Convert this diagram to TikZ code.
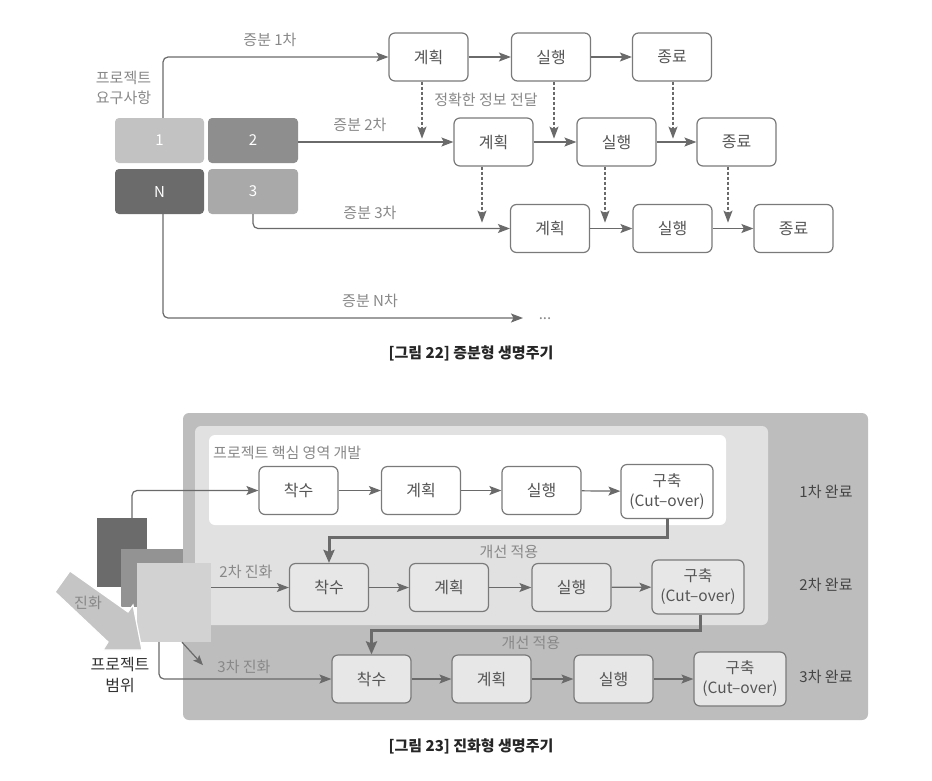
\documentclass[tikz,border=0pt]{standalone}
\usepackage{fontspec}
\setmainfont{Noto Sans CJK KR}
\usetikzlibrary{arrows.meta}

\definecolor{linegray}{HTML}{6A6A6A}
\definecolor{boxline}{HTML}{7A7A7A}
\definecolor{txtgray}{HTML}{888888}
\definecolor{txtdark}{HTML}{555555}
\definecolor{txtside}{HTML}{444444}
\definecolor{gone}{HTML}{C2C2C3}
\definecolor{gtwo}{HTML}{8E8E8F}
\definecolor{gnn}{HTML}{6B6B6C}
\definecolor{gthree}{HTML}{A9A9AA}
\definecolor{outerbg}{HTML}{BDBDBE}
\definecolor{midbg}{HTML}{E1E1E2}
\definecolor{rowfill}{HTML}{E7E7E7}
\definecolor{thickgray}{HTML}{6A6A6A}
\definecolor{sqdark}{HTML}{6B6B6B}
\definecolor{sqmid}{HTML}{939393}
\definecolor{sqlight}{HTML}{D2D2D2}
\definecolor{bigarrow}{HTML}{C5C5C5}

\tikzset{
  box/.style={draw=boxline, line width=1.2pt, rounded corners=6pt,
    minimum width=79pt, minimum height=48pt, inner sep=0pt,
    font=\fontsize{16}{18}\selectfont, text=txtdark},
  cbox/.style={box, minimum width=92pt, minimum height=54pt, align=center,
    font=\fontsize{15.5}{20}\selectfont},
  arr/.style={draw=linegray, line width=1.2pt, rounded corners=5pt,
    -{Stealth[length=12pt,width=9pt,inset=2.5pt]}},
  darr/.style={arr, dash pattern=on 3pt off 2pt},
  tarr/.style={draw=thickgray, line width=3pt,
    -{Stealth[length=13pt,width=11pt,inset=2pt]}},
  lbl/.style={text=txtgray, font=\fontsize{15}{20}\selectfont, inner sep=0pt, align=center},
  side/.style={lbl, text=txtside},
  blk/.style={rounded corners=4pt, minimum width=89pt, minimum height=45pt,
    inner sep=0pt, text=white, font=\fontsize{15}{16}\selectfont},
  sq/.style={inner sep=0pt},
  figcaption/.style={font=\fontsize{15}{16}\selectfont\bfseries, text=black!85, inner sep=0pt},
}

\begin{document}
\begin{tikzpicture}[x=1pt,y=-1pt]
\useasboundingbox (0,0) rectangle (932,780);
\fill[white] (0,0) rectangle (932,780);

% ---------- incremental life cycle ----------
\node[box] (p1) at (428.5,57) {계획};
\node[box] (s1) at (551,57) {실행};
\node[box] (e1) at (672,57) {종료};
\node[box] (p2) at (493.5,142) {계획};
\node[box] (s2) at (616.5,142) {실행};
\node[box] (e2) at (736.5,142) {종료};
\node[box] (p3) at (550,228.5) {계획};
\node[box] (s3) at (672.5,228.5) {실행};
\node[box] (e3) at (793.5,228.5) {종료};

\draw[arr] (p1) -- (s1);
\draw[arr] (s1) -- (e1);
\draw[arr] (p2) -- (s2);
\draw[arr] (s2) -- (e2);
\draw[arr] (p3) -- (s3);
\draw[arr] (s3) -- (e3);

% information handed down between increments
\draw[darr] ([xshift=-6.5pt]p1.south) -- ++(0,57);
\draw[darr] ([xshift=3pt]s1.south) -- ++(0,57);
\draw[darr] ([xshift=1pt]e1.south) -- ++(0,57);
\draw[darr] ([xshift=-11.5pt]p2.south) -- ++(0,56);
\draw[darr] ([xshift=-11.5pt]s2.south) -- ++(0,56);
\draw[darr] ([xshift=-8.5pt]e2.south) -- ++(0,56);
\node[lbl] (info) at (486,100) {정확한 정보 전달};

% requirement blocks
\node[blk, fill=gone] (b1) at (159.5,140.5) {1};
\node[blk, fill=gtwo, minimum width=90pt] (b2) at (253,140.5) {2};
\node[blk, fill=gnn] (bN) at (159.5,191.5) {N};
\node[blk, fill=gthree, minimum width=90pt] (b3) at (253,191.5) {3};
\node[lbl] (req) at (123.5,88) {프로젝트\\요구사항};

\draw[arr] ([xshift=3.5pt]b1.north) |- (p1.west);
\draw[arr] (b2.east |- p2.west) -- (p2.west);
\draw[arr] (b3.south) |- (p3.west);
\coordinate (nend) at (523,318);
\draw[arr] ([xshift=3.5pt]bN.south) |- (nend);
\node[lbl] (dots) at (545,319) {...};

\node[lbl] (i1) at (270,40) {증분 1차};
\node[lbl] (i2) at (360,125) {증분 2차};
\node[lbl] (i3) at (370,213) {증분 3차};
\node[lbl] (iN) at (370,301) {증분 N차};

\node[figcaption] (cap22) at (471,353) {[그림 22] 증분형 생명주기};

% ---------- evolutionary life cycle ----------
\fill[outerbg, rounded corners=6pt] (183,413) rectangle (868,720);
\fill[midbg, rounded corners=6pt] (195,426) rectangle (768,625);
\fill[white, rounded corners=6pt] (209,435) rectangle (726,525);
\node[lbl, anchor=west] (core) at (213,453) {프로젝트 핵심 영역 개발};

\node[box, fill=white] (a1) at (298.5,490.5) {착수};
\node[box, fill=white] (k1) at (421,490.5) {계획};
\node[box, fill=white] (x1) at (541.5,490.5) {실행};
\node[cbox, fill=white] (c1) at (667,491.5) {구축\\(Cut–over)};

\node[box, fill=rowfill] (a2) at (329,587.5) {착수};
\node[box, fill=rowfill] (k2) at (449,587.5) {계획};
\node[box, fill=rowfill] (x2) at (571.5,587.5) {실행};
\node[cbox, fill=rowfill] (c2) at (698,587) {구축\\(Cut–over)};

\node[box, fill=rowfill] (a3) at (371.5,679) {착수};
\node[box, fill=rowfill] (k3) at (491.5,679) {계획};
\node[box, fill=rowfill] (x3) at (613.5,679) {실행};
\node[cbox, fill=rowfill] (c3) at (740,679) {구축\\(Cut–over)};

\draw[arr] (a1) -- (k1);
\draw[arr] (k1) -- (x1);
\draw[arr] (x1) -- (c1);
\draw[arr] (a2) -- (k2);
\draw[arr] (k2) -- (x2);
\draw[arr] (x2) -- (c2);
\draw[arr] (a3) -- (k3);
\draw[arr] (k3) -- (x3);
\draw[arr] (x3) -- (c3);

% improvements carried into the next cycle
\draw[tarr] (c1.south) -- ++(0,18) -| (a2.north);
\draw[tarr] ([xshift=2pt]c2.south) -- ++(0,16) -| (a3.north);
\node[lbl] (imp1) at (509,552) {개선 적용};
\node[lbl] (imp2) at (531,643) {개선 적용};

\node[side] (done1) at (826,492) {1차 완료};
\node[side] (done2) at (826,585) {2차 완료};
\node[side] (done3) at (826,677) {3차 완료};

% scope squares
\node[sq, fill=sqdark, minimum width=50pt, minimum height=69pt] (sqd) at (122,552.5) {};
\node[sq, fill=sqmid, minimum width=62pt, minimum height=58pt] (sqm) at (152,578) {};
\node[sq, fill=sqlight, minimum width=74pt, minimum height=79pt] (sql) at (174,602.5) {};

% evolution block arrow
\filldraw[fill=bigarrow, draw=white, line width=1.2pt, line join=miter]
  (55,592) -- (70,571) -- (128,612) -- (133,605) -- (142,650) -- (103,650) -- (108,642) -- cycle;
\node[lbl] (evo) at (88,603) {진화};
\node[side, text=black!80, font=\fontsize{16}{21}\selectfont] (scope) at (120,675) {프로젝트\\범위};

\draw[arr] ([xshift=10pt]sqd.north) |- (a1.west);
\draw[arr] (sql.east |- a2.west) -- (a2.west);
\node[lbl] (ev2) at (246,572) {2차 진화};
\draw[arr, -{Stealth[length=10pt,width=8pt,inset=2pt]}] ([xshift=8pt]sql.south) -- ++(21,23);
\node[lbl] (ev3) at (244,667) {3차 진화};
\draw[arr] ([xshift=-15pt]sql.south) |- (a3.west);

\node[figcaption] (cap23) at (471,746) {[그림 23] 진화형 생명주기};
\end{tikzpicture}
\end{document}
